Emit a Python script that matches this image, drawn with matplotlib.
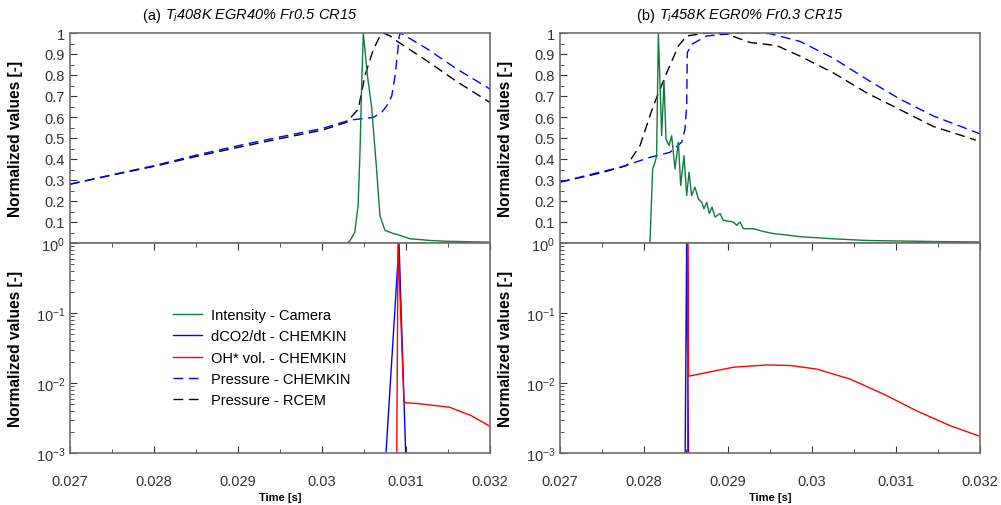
import numpy as np
import matplotlib
matplotlib.use("Agg")
import matplotlib.pyplot as plt
from matplotlib.ticker import MultipleLocator, FixedLocator, LogLocator, NullFormatter
from matplotlib.lines import Line2D

plt.rcParams['font.family'] = ['Liberation Sans', 'DejaVu Sans']
plt.rcParams['mathtext.fontset'] = 'custom'
plt.rcParams['mathtext.rm'] = 'Liberation Sans'
plt.rcParams['mathtext.it'] = 'Liberation Sans:italic'
plt.rcParams['mathtext.bf'] = 'Liberation Sans:bold'

# ---------------- (a) Ti 408K EGR40% Fr0.5 CR15 ----------------
t_cam_a = [0.027, 0.0303, 0.03033, 0.03039, 0.03043, 0.030452, 0.030472, 0.030492,
           0.03054, 0.03059, 0.03065, 0.03069, 0.03075, 0.03085, 0.0309, 0.03105,
           0.03129, 0.0315, 0.032]
cam_a = [0.0, 0.0, 0.01, 0.05, 0.18, 0.43, 0.75, 1.0, 0.80, 0.65, 0.35, 0.13, 0.06,
         0.045, 0.04, 0.02, 0.012, 0.008, 0.004]

t_pchem_a = [0.027, 0.0275, 0.028, 0.0285, 0.029, 0.0295, 0.030, 0.03033, 0.03061,
             0.03071, 0.03077, 0.03083, 0.03087, 0.0309, 0.03092, 0.030935, 0.03125,
             0.0316, 0.032]
pchem_a = [0.28, 0.325, 0.368, 0.418, 0.463, 0.505, 0.545, 0.585, 0.598, 0.622, 0.653,
           0.70, 0.796, 0.907, 0.986, 1.0, 0.925, 0.83, 0.733]

t_prcem_a = [0.027, 0.0275, 0.028, 0.0285, 0.029, 0.0295, 0.030, 0.030294, 0.030432,
             0.03051, 0.03061, 0.03069, 0.03073, 0.03081, 0.03089, 0.03125, 0.0316, 0.032]
prcem_a = [0.28, 0.323, 0.365, 0.412, 0.455, 0.497, 0.537, 0.575, 0.638, 0.796, 0.92,
           0.986, 1.0, 0.986, 0.962, 0.867, 0.77, 0.669]

t_co2_a = [0.030762, 0.030917, 0.030996]
co2_a = [1e-3, 1.0, 1e-3]

t_oh_a = [0.03089, 0.030905, 0.030975, 0.03100, 0.03113, 0.03152, 0.03178, 0.032]
oh_a = [1e-3, 1.0, 0.0055, 0.0052, 0.0051, 0.0045, 0.0034, 0.0024]

# ---------------- (b) Ti 458K EGR0% Fr0.3 CR15 ----------------
t_cam_b = [0.027, 0.028071, 0.028103, 0.028131, 0.02815, 0.028171, 0.02821, 0.028238,
           0.028262, 0.028298, 0.028329, 0.028369, 0.028409, 0.028437, 0.028476,
           0.028508, 0.028536, 0.028567, 0.028607, 0.028647, 0.028687, 0.028714,
           0.028746, 0.028778, 0.02881, 0.028845, 0.028905, 0.028944, 0.029063,
           0.029103, 0.029143, 0.029183, 0.029302, 0.029421, 0.02954, 0.029698,
           0.029857, 0.030254, 0.030651, 0.031444, 0.032]
cam_b = [0.0, 0.0, 0.353, 0.384, 0.416, 1.0, 0.511, 0.772, 0.495, 0.464, 0.511, 0.353,
         0.48, 0.274, 0.416, 0.226, 0.337, 0.226, 0.266, 0.21, 0.194, 0.163, 0.194,
         0.14, 0.171, 0.124, 0.14, 0.108, 0.10, 0.084, 0.10, 0.068, 0.068, 0.055,
         0.045, 0.038, 0.03, 0.02, 0.012, 0.007, 0.005]

t_pchem_b = [0.027, 0.0275, 0.027714, 0.028071, 0.02831, 0.028449, 0.028488, 0.028508,
             0.028516, 0.028567, 0.028746, 0.029063, 0.02929, 0.0295, 0.029857,
             0.030254, 0.03065, 0.031048, 0.031444, 0.032]
pchem_b = [0.29, 0.34, 0.36, 0.408, 0.432, 0.48, 0.543, 0.653, 0.907, 0.946, 0.986,
           0.998, 1.0, 0.997, 0.96, 0.88, 0.78, 0.685, 0.605, 0.52]

t_prcem_b = [0.027, 0.0275, 0.027794, 0.027952, 0.028111, 0.02827, 0.028409, 0.028508,
             0.028746, 0.028984, 0.029262, 0.02958, 0.029857, 0.030254, 0.03065,
             0.031048, 0.031444, 0.03195]
prcem_b = [0.29, 0.335, 0.369, 0.463, 0.653, 0.81, 0.938, 0.986, 1.0, 0.995, 0.955,
           0.94, 0.89, 0.81, 0.715, 0.635, 0.555, 0.49]

t_co2_b = [0.02849, 0.028508, 0.02853]
co2_b = [1e-3, 1.0, 1e-3]

t_oh_b = [0.02852, 0.02852, 0.02853, 0.029063, 0.02946, 0.029738, 0.030056, 0.030452,
          0.030849, 0.031246, 0.031643, 0.032]
oh_b = [1e-3, 1.0, 0.0125, 0.0168, 0.0181, 0.0178, 0.0158, 0.0114, 0.00697, 0.0040,
        0.00246, 0.00173]

title_tags = ["(a) ", "(b) "]
title_rest = [r"$T_i$408K EGR40% Fr0.5 CR15", r"$T_i$458K EGR0% Fr0.3 CR15"]
labels = ["Intensity - Camera", "dCO2/dt - CHEMKIN", "OH* vol. - CHEMKIN",
          "Pressure - CHEMKIN", "Pressure - RCEM"]

green = '#137a40'
spine_c = '#707070'
dash = (7, 4)

fig = plt.figure(figsize=(10.01, 5.06), dpi=100)

panels = [
    (t_cam_a, cam_a, t_pchem_a, pchem_a, t_prcem_a, prcem_a, t_co2_a, co2_a, t_oh_a, oh_a),
    (t_cam_b, cam_b, t_pchem_b, pchem_b, t_prcem_b, prcem_b, t_co2_b, co2_b, t_oh_b, oh_b),
]
lefts = [70 / 1001, 560 / 1001]
w = 420 / 1001
h = 210 / 506
title_x = [165 / 1001, 659 / 1001]

for k, (tc, c, tp, p, tr, r, tco, co, toh, oh) in enumerate(panels):
    ax_top = fig.add_axes([lefts[k], 1 - 244 / 506, w, h])
    ax_bot = fig.add_axes([lefts[k], 1 - 454 / 506, w, h])

    ax_top.plot(tr, r, color='black', lw=1.0, dashes=dash)
    ax_top.plot(tp, p, color='blue', lw=1.0, dashes=dash)
    ax_top.plot(tc, c, color=green, lw=1.0)

    ax_bot.plot(tco, co, color='blue', lw=1.0)
    ax_bot.plot(toh, oh, color='red', lw=1.0)
    ax_bot.set_yscale('log')

    for ax in (ax_top, ax_bot):
        ax.set_xlim(0.027, 0.032)
        for s in ax.spines.values():
            s.set_color(spine_c)
            s.set_linewidth(1.2)
        ax.set_ylabel("Normalized values [-]", fontsize=11.2, fontweight='bold')
        ax.yaxis.set_label_coords(-0.113, 0.5)
        ax.tick_params(which='both', direction='in', colors='#333333', labelsize=10.5)
        ax.tick_params(which='major', length=5)
        ax.tick_params(which='minor', length=3)
        ax.xaxis.set_major_locator(MultipleLocator(0.001))
        ax.xaxis.set_minor_locator(MultipleLocator(0.0005))

    ax_top.set_ylim(0, 1)
    ax_top.yaxis.set_major_locator(FixedLocator([0.1, 0.2, 0.3, 0.4, 0.5, 0.6, 0.7, 0.8, 0.9, 1.0]))
    ax_top.yaxis.set_minor_locator(MultipleLocator(0.05))
    ax_top.set_yticklabels(['0.1', '0.2', '0.3', '0.4', '0.5', '0.6', '0.7', '0.8', '0.9', '1'])
    ax_top.tick_params(axis='x', which='both', bottom=False, labelbottom=False)

    ax_bot.set_ylim(1e-3, 1)
    ax_bot.yaxis.set_major_locator(LogLocator(base=10, numticks=10))
    ax_bot.yaxis.set_minor_locator(LogLocator(base=10, subs=np.arange(2, 10), numticks=10))
    ax_bot.yaxis.set_minor_formatter(NullFormatter())
    ax_bot.tick_params(axis='x', which='both', top=True, pad=15)
    ax_bot.set_xticks([0.027, 0.028, 0.029, 0.030, 0.031, 0.032])
    ax_bot.set_xticklabels(['0.027', '0.028', '0.029', '0.03', '0.031', '0.032'])
    ax_bot.set_xlabel("Time [s]", fontsize=8, fontweight='bold', labelpad=3)

    ty = 1 - 16 / 506
    fig.text(title_x[k], ty, title_tags[k], fontsize=10.5, ha='right', va='center')
    fig.text(title_x[k], ty, title_rest[k], fontsize=10.5, ha='left', va='center',
             fontstyle='italic')

    if k == 0:
        handles = [Line2D([], [], color=green, lw=1.0),
                   Line2D([], [], color='blue', lw=1.0),
                   Line2D([], [], color='red', lw=1.0),
                   Line2D([], [], color='blue', lw=1.0, dashes=dash),
                   Line2D([], [], color='black', lw=1.0, dashes=dash)]
        ax_bot.legend(handles, labels, loc='upper left', bbox_to_anchor=(0.245, 0.69),
                      frameon=False, fontsize=10.5, handlelength=2.0, handletextpad=0.6,
                      labelspacing=0.5, borderpad=0, borderaxespad=0)

fig.savefig("out.png", dpi=100)
